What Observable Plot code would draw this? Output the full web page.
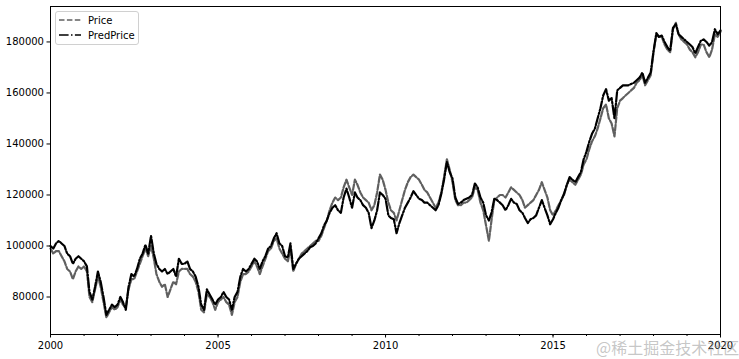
<!DOCTYPE html>
<html>
<head>
<meta charset="utf-8">
<script src="https://cdn.jsdelivr.net/npm/d3@7"></script>
<script src="https://cdn.jsdelivr.net/npm/@observablehq/plot@0.6"></script>
<style>
  body { margin: 0; background: white; }
  #wrap { position: relative; width: 739px; height: 359px; font-family: "DejaVu Sans", sans-serif; }
  #legend { position: absolute; left: 55px; top: 11px; width: 82px; height: 32px; border: 1px solid #d0d0d0; border-radius: 3px; background: rgba(255,255,255,0.8); font-size: 10px; }
  #legend .row { position: absolute; left: 3px; height: 14px; display: flex; align-items: center; }
  #legend .row span { margin-left: 7px; color: black; }
  #wm { position: absolute; left: 596px; top: 335px; font-family: "Noto Sans CJK SC", sans-serif; font-size: 16px; color: rgba(150,150,150,0.55); white-space: nowrap; }
</style>
</head>
<body>
<div id="wrap">
  <div id="chart"></div>
  <div id="legend">
    <div class="row" style="top:1px"><svg width="22" height="6"><line x1="0" y1="3" x2="22" y2="3" stroke="#606060" stroke-width="1.5" stroke-dasharray="5.5,2.4"/></svg><span>Price</span></div>
    <div class="row" style="top:16px"><svg width="22" height="6"><line x1="0" y1="3" x2="22" y2="3" stroke="black" stroke-width="1.5" stroke-dasharray="9.6,2.4,1.5,2.4"/></svg><span>PredPrice</span></div>
  </div>
  <div id="wm">@稀土掘金技术社区</div>
</div>
<script>
// Monthly values (thousands), Jan 2000 .. Jan 2020
const startYear = 2000;
const price = [
  99, 97, 98, 98, 96, 94, 91, 90, 87, 90, 92, 91,
  92, 90, 80, 78, 83, 88, 84, 78, 72, 74, 76, 75,
  76, 79, 77, 76, 83, 87, 87, 90, 93, 96, 99, 96,
  100, 95, 89, 86, 84, 85, 80, 83, 86, 85, 90, 91,
  91, 91, 89, 88, 86, 82, 75, 74, 81, 80, 78, 75,
  78, 79, 80, 78, 77, 73, 78, 80, 86, 89, 89, 90,
  92, 94, 92, 89, 92, 95, 98, 99, 102, 103, 99, 97,
  95, 94, 99, 90, 93, 95, 97, 98, 99, 100, 101, 102,
  102, 104, 107, 110, 114, 117, 119, 118, 119, 123, 126, 123,
  120, 126, 124, 121, 119, 118, 117, 114, 116, 121, 128, 126,
  122, 117, 114, 113, 110, 114, 118, 122, 125, 127, 128, 127,
  126, 124, 122, 121, 119, 117, 115, 117, 121, 127, 134, 130,
  125, 118, 116, 116, 117, 117, 118, 119, 123, 122, 117, 114,
  108, 102, 110, 118, 119, 120, 120, 119, 121, 123, 122, 121,
  120, 118, 115, 116, 117, 118, 120, 122, 125, 122, 119, 114,
  112, 114, 116, 118, 120, 124, 126, 125, 124, 126, 128, 132,
  134, 138, 141, 143, 146, 150, 154, 155.5, 150, 148, 143, 154,
  157, 158, 159, 160, 161, 162, 164, 165, 167, 163, 165, 167,
  176, 183, 182, 182, 179, 177, 176, 185, 187.5, 183, 181, 180,
  179, 177, 176, 174, 176, 179, 179, 176, 174, 177, 183, 182,
  184
];
const predPrice = [
  100, 99, 101, 102, 101, 100, 97, 96, 93, 95, 96, 95,
  94, 92, 82, 79, 84, 90, 86, 80, 73, 75, 77, 76,
  77, 80, 78, 75, 84, 89, 88, 91, 95, 97, 100.5, 97,
  104, 97, 93, 91, 90, 91, 89, 90, 91, 88, 95, 93,
  93, 94, 91, 90, 88, 84, 77, 75, 83, 81, 79, 77,
  79, 80, 82, 80, 79, 75, 80, 82, 88, 91, 90, 91,
  93, 95, 94, 91, 94, 96, 99, 100, 103, 105, 101, 100,
  96, 95.5, 101, 91, 93, 95, 96, 97, 98, 99.5, 100, 101,
  103, 105, 108, 110, 113, 115, 116, 114, 113, 119, 122.5, 119,
  115, 121, 119, 118, 116, 115, 113, 107, 110, 114, 121, 120,
  118.5, 112, 111, 110.5, 105, 109, 112, 115, 117, 119, 121.5, 120,
  118.5, 118, 117, 117, 116, 115, 114, 116, 120.5, 126, 133, 129,
  126.5, 119, 116.5, 117, 118, 118.5, 119, 120, 124.5, 123, 119, 117,
  112, 110, 113, 118.5, 118, 117, 116, 114, 116, 118.5, 117, 116.5,
  114, 113, 111, 109, 110.5, 111, 112, 115, 118, 115, 112, 108.5,
  110.5, 113, 115, 118, 120.5, 124, 127, 126, 125, 127, 129, 134,
  137, 141, 144, 146, 150, 154, 159, 161.5, 157, 158, 150, 161,
  162, 163, 163, 163, 163.5, 164, 165, 166, 168, 164, 166, 168,
  176.5, 183.5, 182, 182.5, 180, 178, 176.5, 185.5, 187, 183, 182, 181,
  180, 179, 178, 175.5, 178, 180.5, 181, 180, 178.5, 180, 185, 183,
  184.5
];
const yTicks = [80000, 100000, 120000, 140000, 160000, 180000];
const majorYears = [2000, 2005, 2010, 2015, 2020];
const minorYears = d3.range(2000, 2021);

const rows = price.map((p, i) => ({
  date: d3.utcMonth.offset(new Date(Date.UTC(startYear, 0, 1)), i),
  price: p * 1000,
  pred: predPrice[i] * 1000
}));
const yr = y => new Date(Date.UTC(y, 0, 1));

const chart = Plot.plot({
  width: 739,
  height: 359,
  marginLeft: 50,
  marginRight: 19,
  marginTop: 6,
  marginBottom: 25,
  style: { fontFamily: "DejaVu Sans, sans-serif", fontSize: "10px", color: "black", background: "white" },
  x: { type: "utc", domain: [yr(2000), yr(2020)] },
  y: { domain: [65300, 193900] },
  marks: [
    Plot.lineY(rows, { x: "date", y: "price", stroke: "#606060", strokeWidth: 2.2, strokeDasharray: "5.5,2" }),
    Plot.lineY(rows, { x: "date", y: "pred", stroke: "black", strokeWidth: 2.2, strokeDasharray: "9.6,2,1.5,2" }),
    Plot.axisY(yTicks, { tickSize: 3.5, tickPadding: 3, tickFormat: d3.format("d"), label: null, fontSize: 10 }),
    Plot.axisX(minorYears.map(yr), { tickSize: 2, tickFormat: () => "", label: null }),
    Plot.axisX(majorYears.map(yr), { tickSize: 3.5, tickPadding: 4, tickFormat: d3.utcFormat("%Y"), label: null, fontSize: 10 }),
    Plot.frame({ stroke: "black", strokeWidth: 1 })
  ]
});
document.getElementById("chart").appendChild(chart);
</script>
</body>
</html>
